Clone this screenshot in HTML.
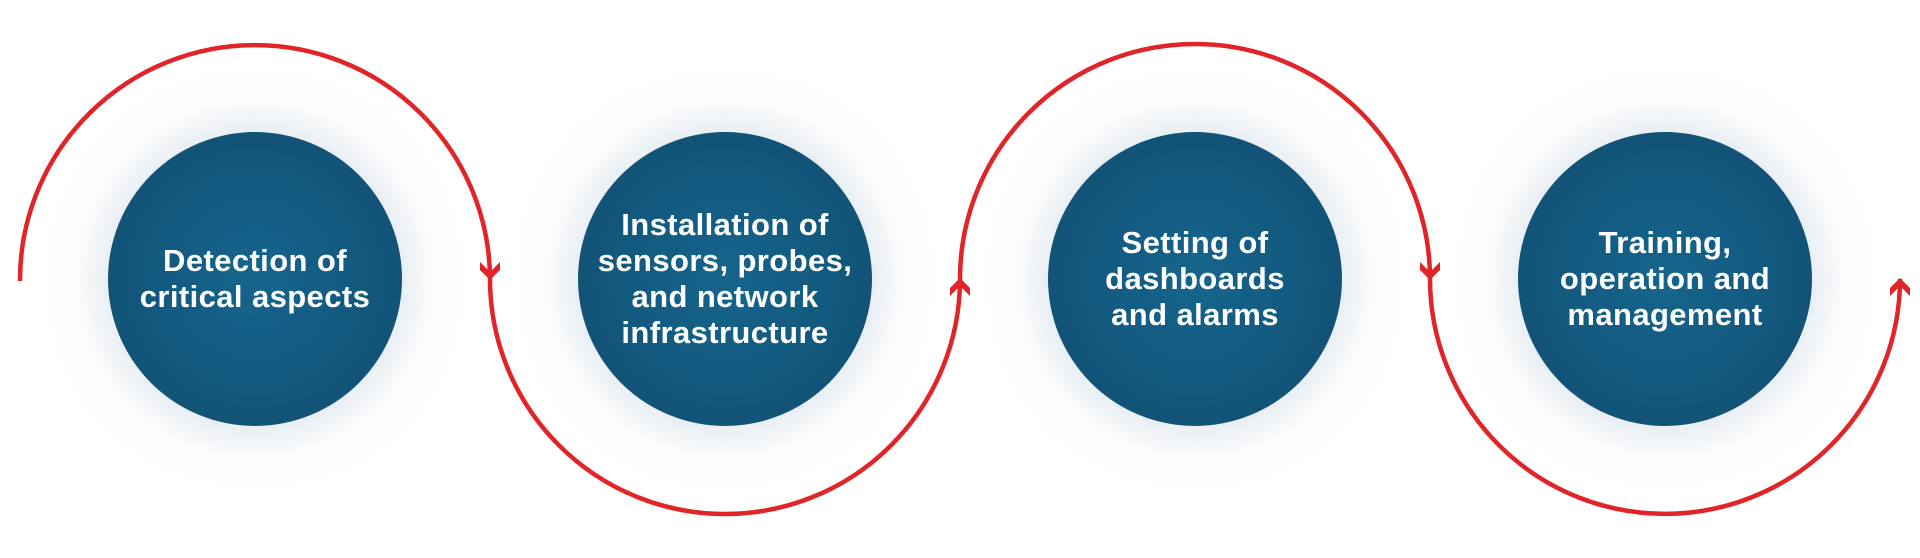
<!DOCTYPE html>
<html><head><style>
html,body{margin:0;padding:0;background:#fff;}
.wrap{position:relative;width:1920px;height:558px;overflow:hidden;}
.c{position:absolute;width:294px;height:294px;border-radius:50%;
background:radial-gradient(circle at 50% 50%,#16658d 0%,#135a80 45%,#114a6b 100%);
box-shadow:0 0 40px 14px rgba(200,215,228,0.55);
display:flex;align-items:center;justify-content:center;text-align:center;white-space:nowrap;
color:#fff;font-family:"Liberation Sans",sans-serif;font-weight:bold;font-size:31px;letter-spacing:0.4px;line-height:36px;}
svg{position:absolute;left:0;top:0;}
</style></head><body><div class="wrap">
<div class="c" style="left:108px;top:132px;">Detection of<br>critical aspects</div>
<div class="c" style="left:578px;top:132px;">Installation of<br>sensors, probes,<br>and network<br>infrastructure</div>
<div class="c" style="left:1048px;top:132px;">Setting of<br>dashboards<br>and alarms</div>
<div class="c" style="left:1518px;top:132px;">Training,<br>operation and<br>management</div>
<svg width="1920" height="558" viewBox="0 0 1920 558">
<g fill="none" stroke="#e02428" stroke-width="4.5">
<path d="M20 281 A235 235 0 0 1 490 279"/>
<path d="M490 279 A235 235 0 0 0 960 279"/>
<path d="M960 279 A235 235 0 0 1 1430 279"/>
<path d="M1430 279 A235 235 0 0 0 1900 279"/>
</g>
<g fill="#e02428">
<polygon points="480,262 490,272 500,262 500,270 490,280 480,270"/>
<polygon points="950,296 960,286 970,296 970,288 960,278 950,288"/>
<polygon points="1420,262 1430,272 1440,262 1440,270 1430,280 1420,270"/>
<polygon points="1890,296 1900,286 1910,296 1910,288 1900,278 1890,288"/>
</g>
</svg>
</div></body></html>
